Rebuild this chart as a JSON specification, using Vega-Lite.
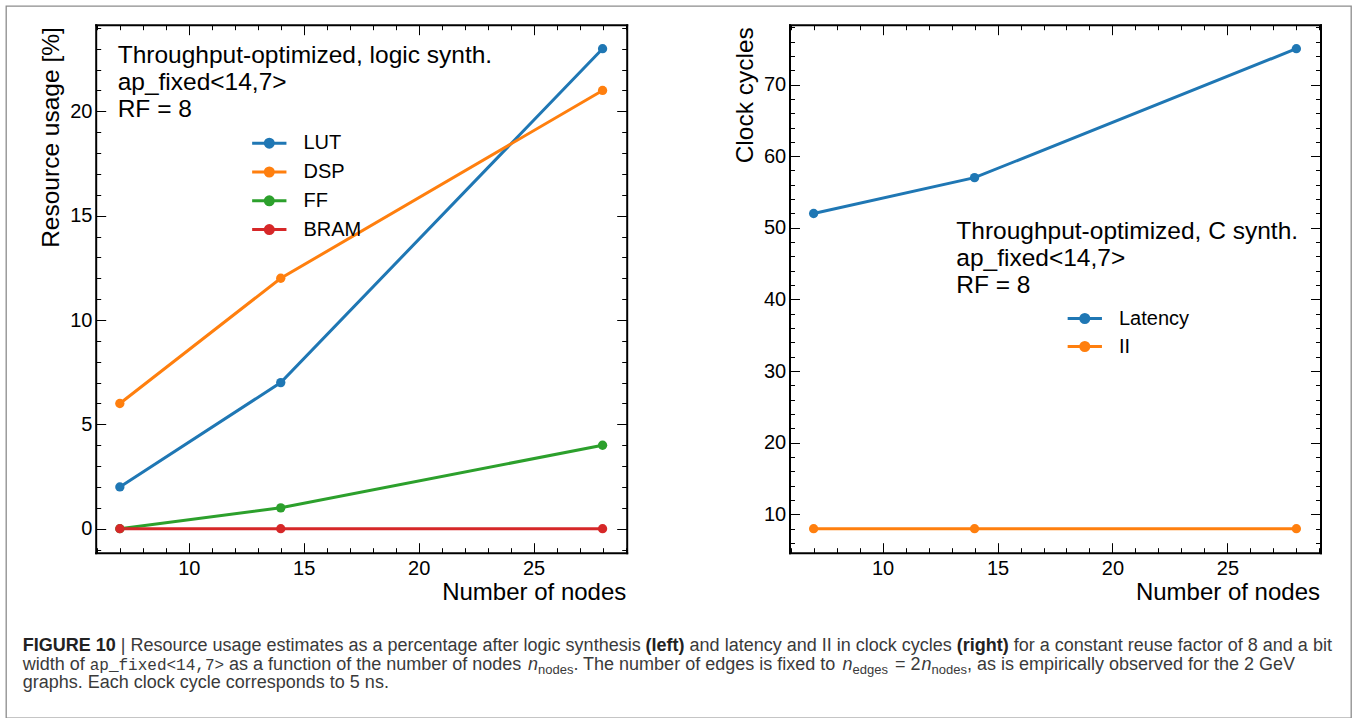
{
  "$schema": "https://vega.github.io/schema/vega-lite/v6.json",
  "width": 1345,
  "height": 712,
  "autosize": {"type": "none"},
  "padding": {"left": 6, "top": 6, "right": 6, "bottom": 0},
  "background": "white",
  "config": {
    "view": {"stroke": "#8c8c8c", "strokeWidth": 1.3},
    "font": "Liberation Sans",
    "axis": {"domainColor": "black", "domainWidth": 2, "domainCap": "square", "tickColor": "black", "tickWidth": 1, "labelColor": "black", "labelFont": "Liberation Sans", "labelFontSize": 20, "titleColor": "black", "titleFont": "Liberation Sans", "titleFontSize": 24, "titleFontWeight": "normal", "grid": false, "labelOverlap": false, "labelFlush": false, "zindex": 1}
  },
  "datasets": {
    "resources": [
      {"nodes": 7, "resource": "LUT", "usage": 2},
      {"nodes": 14, "resource": "LUT", "usage": 7},
      {"nodes": 28, "resource": "LUT", "usage": 23},
      {"nodes": 7, "resource": "DSP", "usage": 6},
      {"nodes": 14, "resource": "DSP", "usage": 12},
      {"nodes": 28, "resource": "DSP", "usage": 21},
      {"nodes": 7, "resource": "FF", "usage": 0},
      {"nodes": 14, "resource": "FF", "usage": 1},
      {"nodes": 28, "resource": "FF", "usage": 4},
      {"nodes": 7, "resource": "BRAM", "usage": 0},
      {"nodes": 14, "resource": "BRAM", "usage": 0},
      {"nodes": 28, "resource": "BRAM", "usage": 0}
    ],
    "timing": [
      {"nodes": 7, "metric": "Latency", "cycles": 52},
      {"nodes": 14, "metric": "Latency", "cycles": 57},
      {"nodes": 28, "metric": "Latency", "cycles": 75},
      {"nodes": 7, "metric": "II", "cycles": 8},
      {"nodes": 14, "metric": "II", "cycles": 8},
      {"nodes": 28, "metric": "II", "cycles": 8}
    ],
    "notes": [
      {"panel": "left", "note": ["Throughput-optimized, logic synth.", "ap_fixed<14,7>", "RF = 8"]},
      {"panel": "right", "note": ["Throughput-optimized, C synth.", "ap_fixed<14,7>", "RF = 8"]}
    ]
  },
  "layer": [
    {
      "data": {"name": "resources"},
      "encoding": {
        "x": {"field": "nodes", "type": "quantitative",
          "scale": {"domain": [5.95, 29.05], "range": [89.7, 620.7], "nice": false, "zero": false},
          "axis": {"orient": "bottom", "offset": -165.3,
            "values": [6,7,8,9,10,11,12,13,14,15,16,17,18,19,20,21,22,23,24,25,26,27,28,29],
            "tickSize": {"condition": {"test": "datum.value % 5 === 0", "value": -10}, "value": -5},
            "labelExpr": "datum.value % 5 === 0 ? datum.label : ''",
            "labelPadding": 15.5,
            "title": "Number of nodes", "titleX": 619.8, "titleY": 46.6, "titleAlign": "right", "titleBaseline": "alphabetic", "titleAngle": 0}},
        "y": {"field": "usage", "type": "quantitative",
          "scale": {"domain": [-1.15, 24.15], "range": [546.7, 18.7], "nice": false, "zero": false},
          "axis": {"orient": "left", "offset": -89.7,
            "values": [-1,0,1,2,3,4,5,6,7,8,9,10,11,12,13,14,15,16,17,18,19,20,21,22,23,24],
            "tickSize": {"condition": {"test": "datum.value % 5 === 0", "value": -10}, "value": -5},
            "labelExpr": "datum.value % 5 === 0 ? datum.label : ''",
            "labelPadding": 13.8,
            "title": "Resource usage [%]", "titleFontSize": 24.5, "titleX": -36.7, "titleY": 20.7, "titleAngle": 270, "titleAlign": "right", "titleBaseline": "alphabetic"}}
      },
      "layer": [
        {"mark": {"type": "line", "strokeWidth": 3},
         "encoding": {"color": {"field": "resource", "type": "nominal",
           "scale": {"domain": ["LUT", "DSP", "FF", "BRAM"], "range": ["#1f77b4", "#ff7f0e", "#2ca02c", "#d62728"]},
           "legend": {"orient": "none", "legendX": 251.8, "legendY": 125.7, "title": null, "padding": 0,
             "symbolType": "M-1.715,0L1.715,0M-0.4,0A0.4,0.4,0,1,1,0.4,0A0.4,0.4,0,1,1,-0.4,0M-0.15,0A0.15,0.15,0,1,1,0.15,0A0.15,0.15,0,1,1,-0.15,0",
             "symbolSize": 400, "symbolStrokeWidth": 3, "symbolFillColor": "transparent",
             "labelFont": "Liberation Sans", "labelFontSize": 20, "labelColor": "black", "labelOffset": 22.7, "rowPadding": 6.8}}}},
        {"mark": {"type": "point", "filled": true, "size": 87, "opacity": 1},
         "encoding": {"color": {"field": "resource", "type": "nominal", "legend": null}}}
      ]
    },
    {
      "data": {"name": "resources"},
      "mark": {"type": "point", "opacity": 0},
      "encoding": {
        "x": {"field": "nodes", "type": "quantitative",
          "scale": {"domain": [5.95, 29.05], "range": [89.7, 620.7], "nice": false, "zero": false},
          "axis": {"orient": "top", "offset": -18.7, "labels": false, "title": null,
            "values": [6,7,8,9,10,11,12,13,14,15,16,17,18,19,20,21,22,23,24,25,26,27,28,29],
            "tickSize": {"condition": {"test": "datum.value % 5 === 0", "value": -10}, "value": -5}}},
        "y": {"field": "usage", "type": "quantitative",
          "scale": {"domain": [-1.15, 24.15], "range": [546.7, 18.7], "nice": false, "zero": false},
          "axis": {"orient": "right", "offset": -724.3, "labels": false, "title": null,
            "values": [-1,0,1,2,3,4,5,6,7,8,9,10,11,12,13,14,15,16,17,18,19,20,21,22,23,24],
            "tickSize": {"condition": {"test": "datum.value % 5 === 0", "value": -10}, "value": -5}}}
      }
    },
    {
      "data": {"name": "notes"},
      "transform": [{"filter": "datum.panel === 'left'"}],
      "mark": {"type": "text", "align": "left", "baseline": "alphabetic", "font": "Liberation Sans", "fontSize": 24.5, "lineHeight": 27, "color": "black"},
      "encoding": {
        "text": {"field": "note"},
        "x": {"datum": 6.906, "type": "quantitative", "scale": {"domain": [5.95, 29.05], "range": [89.7, 620.7], "nice": false, "zero": false}, "axis": null},
        "y": {"datum": 22.306, "type": "quantitative", "scale": {"domain": [-1.15, 24.15], "range": [546.7, 18.7], "nice": false, "zero": false}, "axis": null}
      }
    },
    {
      "data": {"name": "timing"},
      "encoding": {
        "x": {"field": "nodes", "type": "quantitative",
          "scale": {"domain": [5.95, 29.05], "range": [783.5, 1314.5], "nice": false, "zero": false},
          "axis": {"orient": "bottom", "offset": -165.3,
            "values": [6,7,8,9,10,11,12,13,14,15,16,17,18,19,20,21,22,23,24,25,26,27,28,29],
            "tickSize": {"condition": {"test": "datum.value % 5 === 0", "value": -10}, "value": -5},
            "labelExpr": "datum.value % 5 === 0 ? datum.label : ''",
            "labelPadding": 15.5,
            "title": "Number of nodes", "titleX": 1313.5, "titleY": 46.6, "titleAlign": "right", "titleBaseline": "alphabetic", "titleAngle": 0}},
        "y": {"field": "cycles", "type": "quantitative",
          "scale": {"domain": [4.65, 78.35], "range": [546.7, 18.7], "nice": false, "zero": false},
          "axis": {"orient": "left", "offset": -783.5,
            "values": [6,8,10,12,14,16,18,20,22,24,26,28,30,32,34,36,38,40,42,44,46,48,50,52,54,56,58,60,62,64,66,68,70,72,74,76,78],
            "tickSize": {"condition": {"test": "datum.value % 10 === 0", "value": -10}, "value": -5},
            "labelExpr": "datum.value % 10 === 0 ? datum.label : ''",
            "labelPadding": 13.8,
            "title": "Clock cycles", "titleFontSize": 24.5, "titleX": -37, "titleY": 20.7, "titleAngle": 270, "titleAlign": "right", "titleBaseline": "alphabetic"}}
      },
      "layer": [
        {"mark": {"type": "line", "strokeWidth": 3},
         "encoding": {"color": {"field": "metric", "type": "nominal",
           "scale": {"domain": ["Latency", "II"], "range": ["#1f77b4", "#ff7f0e"]},
           "legend": {"orient": "none", "legendX": 1067.3, "legendY": 301, "title": null, "padding": 0,
             "symbolType": "M-1.715,0L1.715,0M-0.4,0A0.4,0.4,0,1,1,0.4,0A0.4,0.4,0,1,1,-0.4,0M-0.15,0A0.15,0.15,0,1,1,0.15,0A0.15,0.15,0,1,1,-0.15,0",
             "symbolSize": 400, "symbolStrokeWidth": 3, "symbolFillColor": "transparent",
             "labelFont": "Liberation Sans", "labelFontSize": 20, "labelColor": "black", "labelOffset": 22.7, "rowPadding": 6}}}},
        {"mark": {"type": "point", "filled": true, "size": 87, "opacity": 1},
         "encoding": {"color": {"field": "metric", "type": "nominal", "legend": null}}}
      ]
    },
    {
      "data": {"name": "timing"},
      "mark": {"type": "point", "opacity": 0},
      "encoding": {
        "x": {"field": "nodes", "type": "quantitative",
          "scale": {"domain": [5.95, 29.05], "range": [783.5, 1314.5], "nice": false, "zero": false},
          "axis": {"orient": "top", "offset": -18.7, "labels": false, "title": null,
            "values": [6,7,8,9,10,11,12,13,14,15,16,17,18,19,20,21,22,23,24,25,26,27,28,29],
            "tickSize": {"condition": {"test": "datum.value % 5 === 0", "value": -10}, "value": -5}}},
        "y": {"field": "cycles", "type": "quantitative",
          "scale": {"domain": [4.65, 78.35], "range": [546.7, 18.7], "nice": false, "zero": false},
          "axis": {"orient": "right", "offset": -30.5, "labels": false, "title": null,
            "values": [6,8,10,12,14,16,18,20,22,24,26,28,30,32,34,36,38,40,42,44,46,48,50,52,54,56,58,60,62,64,66,68,70,72,74,76,78],
            "tickSize": {"condition": {"test": "datum.value % 10 === 0", "value": -10}, "value": -5}}}
      }
    },
    {
      "data": {"name": "notes"},
      "transform": [{"filter": "datum.panel === 'right'"}],
      "mark": {"type": "text", "align": "left", "baseline": "alphabetic", "font": "Liberation Sans", "fontSize": 24.5, "lineHeight": 27, "color": "black"},
      "encoding": {
        "text": {"field": "note"},
        "x": {"datum": 13.206, "type": "quantitative", "scale": {"domain": [5.95, 29.05], "range": [783.5, 1314.5], "nice": false, "zero": false}, "axis": null},
        "y": {"datum": 48.44, "type": "quantitative", "scale": {"domain": [4.65, 78.35], "range": [546.7, 18.7], "nice": false, "zero": false}, "axis": null}
      }
    },
    {
      "encoding": {
        "y": {"field": "line", "type": "ordinal", "scale": {"type": "point", "domain": [1, 2, 3], "range": [645, 682], "padding": 0}, "axis": null},
        "text": {"field": "t"}
      },
      "layer": [
        {"data": {"values": [{"line": 1, "t": "FIGURE 10"}]},
         "mark": {"type": "text", "align": "left", "baseline": "alphabetic", "fontSize": 18, "fontWeight": "bold", "color": "#222222", "dx": -655.8}},
        {"data": {"values": [{"line": 2, "t": "width of"}, {"line": 3, "t": "graphs. Each clock cycle corresponds to 5 ns."}]},
         "mark": {"type": "text", "align": "left", "baseline": "alphabetic", "fontSize": 18, "color": "#3a3a3a", "dx": -655.8}},
        {"data": {"values": [{"line": 1, "t": "| Resource usage estimates as a percentage after logic synthesis"}]},
         "mark": {"type": "text", "align": "left", "baseline": "alphabetic", "fontSize": 18, "color": "#3a3a3a", "dx": -557.8}},
        {"data": {"values": [{"line": 1, "t": "(left)"}]},
         "mark": {"type": "text", "align": "left", "baseline": "alphabetic", "fontSize": 18, "fontWeight": "bold", "color": "#222222", "dx": -32.9}},
        {"data": {"values": [{"line": 1, "t": "and latency and II in clock cycles"}]},
         "mark": {"type": "text", "align": "left", "baseline": "alphabetic", "fontSize": 18, "color": "#3a3a3a", "dx": 11.1}},
        {"data": {"values": [{"line": 1, "t": "(right)"}]},
         "mark": {"type": "text", "align": "left", "baseline": "alphabetic", "fontSize": 18, "fontWeight": "bold", "color": "#222222", "dx": 278.2}},
        {"data": {"values": [{"line": 1, "t": "for a constant reuse factor of 8 and a bit"}]},
         "mark": {"type": "text", "align": "left", "baseline": "alphabetic", "fontSize": 18, "color": "#3a3a3a", "dx": 335.2}},
        {"data": {"values": [{"line": 2, "t": "ap_fixed<14,7>"}]},
         "mark": {"type": "text", "align": "left", "baseline": "alphabetic", "font": "Liberation Mono", "fontSize": 16, "color": "#3a3a3a", "dx": -588.8}},
        {"data": {"values": [{"line": 2, "t": "as a function of the number of nodes"}]},
         "mark": {"type": "text", "align": "left", "baseline": "alphabetic", "fontSize": 18, "color": "#3a3a3a", "dx": -449.4}},
        {"data": {"values": [{"line": 2, "t": "n"}]},
         "mark": {"type": "text", "align": "left", "baseline": "alphabetic", "fontSize": 18, "fontStyle": "italic", "color": "#3a3a3a", "dx": -150.5}},
        {"data": {"values": [{"line": 2, "t": "nodes"}]},
         "mark": {"type": "text", "align": "left", "baseline": "alphabetic", "fontSize": 13, "color": "#3a3a3a", "dx": -140.5, "dy": 4}},
        {"data": {"values": [{"line": 2, "t": ". The number of edges is fixed to"}]},
         "mark": {"type": "text", "align": "left", "baseline": "alphabetic", "fontSize": 18, "color": "#3a3a3a", "dx": -105.1}},
        {"data": {"values": [{"line": 2, "t": "n"}]},
         "mark": {"type": "text", "align": "left", "baseline": "alphabetic", "fontSize": 18, "fontStyle": "italic", "color": "#3a3a3a", "dx": 164}},
        {"data": {"values": [{"line": 2, "t": "edges"}]},
         "mark": {"type": "text", "align": "left", "baseline": "alphabetic", "fontSize": 13, "color": "#3a3a3a", "dx": 174, "dy": 4}},
        {"data": {"values": [{"line": 2, "t": "= 2"}]},
         "mark": {"type": "text", "align": "left", "baseline": "alphabetic", "fontSize": 18, "color": "#3a3a3a", "dx": 216.5}},
        {"data": {"values": [{"line": 2, "t": "n"}]},
         "mark": {"type": "text", "align": "left", "baseline": "alphabetic", "fontSize": 18, "fontStyle": "italic", "color": "#3a3a3a", "dx": 243}},
        {"data": {"values": [{"line": 2, "t": "nodes"}]},
         "mark": {"type": "text", "align": "left", "baseline": "alphabetic", "fontSize": 13, "color": "#3a3a3a", "dx": 253, "dy": 4}},
        {"data": {"values": [{"line": 2, "t": ", as is empirically observed for the 2 GeV"}]},
         "mark": {"type": "text", "align": "left", "baseline": "alphabetic", "fontSize": 18, "color": "#3a3a3a", "dx": 288.4}}
      ]
    }
  ],
  "resolve": {"scale": {"x": "independent", "y": "independent", "color": "independent"}}
}
